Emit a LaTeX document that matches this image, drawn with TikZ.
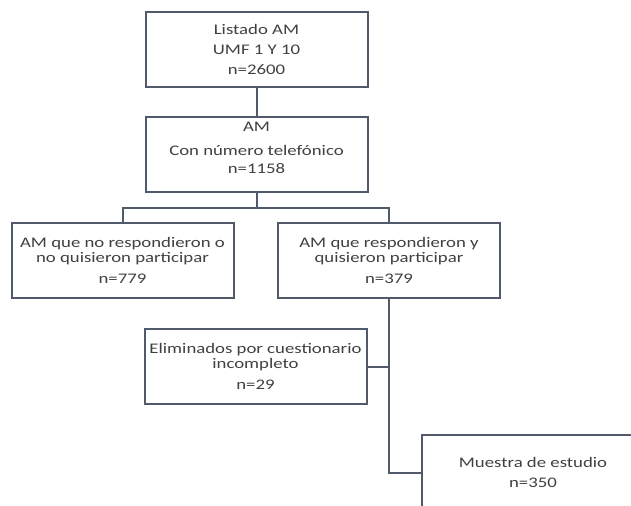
\documentclass[tikz,border=0pt]{standalone}
\usepackage{fontspec}
\setmainfont{Carlito}[FakeStretch=1.28]
\usepackage{tikz}
\definecolor{boxline}{RGB}{80,90,106}
\definecolor{boxtext}{RGB}{64,64,64}

\begin{document}
\begin{tikzpicture}[x=0.75pt,y=-0.75pt,
  flowbox/.style={draw=boxline,line width=1.5pt,minimum width=166.5pt,minimum height=56pt,
    inner sep=0pt,align=center,text=boxtext,font=\fontsize{11pt}{11.5pt}\selectfont},
  link/.style={draw=boxline,line width=1.5pt}]
\clip (0,0) rectangle (631,506);
\node[flowbox] (listado)  at (256.5, 49.5) {Listado AM\\[3.5pt]UMF 1 Y 10\\[4pt]n=2600};
\node[flowbox] (telefono) at (256.5,154.5) {AM\\[7pt]Con número telefónico\\[2pt]n=1158\\[-1.5pt]};
\node[flowbox] (noresp)   at (122.5,260.5) {AM que no respondieron o\\no quisieron participar\\[4pt]n=779};
\node[flowbox] (siresp)   at (  389,260.5) {AM que respondieron y\\quisieron participar\\[4pt]n=379};
\node[flowbox] (elimin)   at (255.5,366.5) {Eliminados por cuestionario\\incompleto\\[4pt]n=29};
\node[flowbox] (muestra)  at (  533,472.5) {Muestra de estudio\\[3pt]n=350};
\coordinate    (split)    at (256.5,  208);

\draw[link] (listado) -- (telefono);
\draw[link] (telefono) -- (split);
\draw[link] (split) -| (noresp.north);
\draw[link] (split) -| (siresp.north);
\draw[link] (siresp.south) |- (muestra.west);
\draw[link] (elimin.east) -- (elimin.east -| siresp.south);
\end{tikzpicture}
\end{document}
